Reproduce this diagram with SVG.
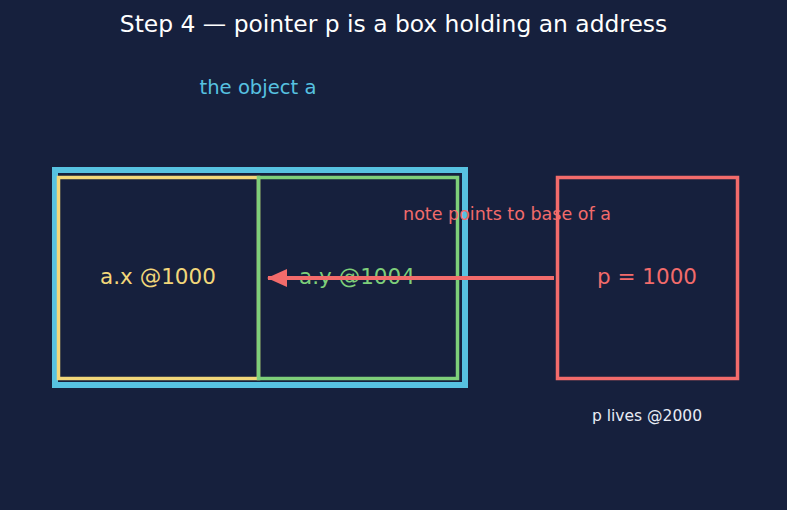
<svg xmlns="http://www.w3.org/2000/svg" width="787" height="510" viewBox="0 0 787 510">
<defs>
<style>
text{font-family:"DejaVu Sans","Liberation Sans",sans-serif;text-anchor:middle}
.box{fill:none}
</style>
<marker id="ah" markerUnits="userSpaceOnUse" markerWidth="20" markerHeight="18" refX="19" refY="9" orient="auto">
<path d="M0,0 L20,9 L0,18 Z" fill="#f26b6b"/>
</marker>
</defs>
<rect width="787" height="510" fill="#16203d"/>
<text x="393.5" y="32" font-size="23.4" fill="#ffffff">Step 4 — pointer p is a box holding an address</text>
<g id="object-a">
<rect class="box" x="55" y="170" width="410" height="215" stroke="#57c2e1" stroke-width="6"/>
<text x="258" y="94" font-size="19.6" fill="#57c2e1">the object a</text>
</g>
<g id="ax">
<rect class="box" x="58.5" y="177.5" width="200" height="201" stroke="#f2d77a" stroke-width="3.5"/>
<text x="158" y="284" font-size="21.5" fill="#f2d77a">a.x @1000</text>
</g>
<g id="ay">
<rect class="box" x="258.5" y="177.5" width="199" height="201" stroke="#7ecf7a" stroke-width="3.5"/>
<text x="357" y="284" font-size="21.5" fill="#7ecf7a">a.y @1004</text>
</g>
<g id="p">
<rect class="box" x="557.5" y="177.5" width="180" height="201" stroke="#f26b6b" stroke-width="3.5"/>
<text x="647" y="284" font-size="21.5" fill="#f26b6b">p = 1000</text>
<text x="647" y="421" font-size="15.5" fill="#e8ecf5">p lives @2000</text>
</g>
<g id="connectors">
<line x1="554" y1="278" x2="268" y2="278" stroke="#f26b6b" stroke-width="4" marker-end="url(#ah)"/>
<text x="507" y="220" font-size="17.5" fill="#f26b6b">note points to base of a</text>
</g>
</svg>
